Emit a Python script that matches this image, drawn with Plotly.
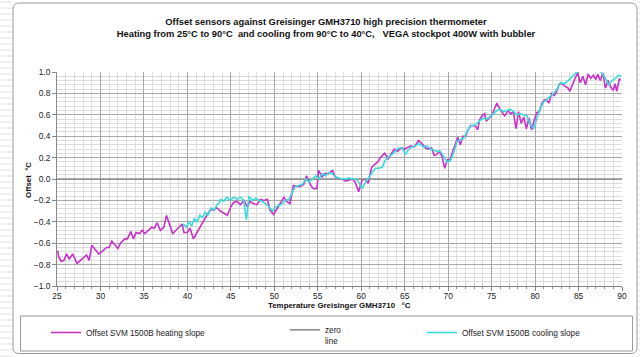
import plotly.graph_objects as go

# ---------------- data ----------------
heat_x = [25.07, 25.2, 25.5, 25.8, 26.1, 26.4, 26.8, 27.3, 27.7, 28.1, 28.4, 28.7, 29.0, 29.4, 29.8,
          30.3, 30.7, 31.0, 31.3, 31.7, 32.0, 32.3, 32.8, 33.1, 33.5, 33.8, 34.1, 34.5, 34.8, 35.1,
          35.5, 35.9, 36.2, 36.5, 36.9, 37.3, 37.6, 37.9, 38.3, 38.8, 39.4, 39.6, 40.0, 40.3, 40.7,
          41.1, 41.5, 41.9, 42.3, 42.7, 43.0, 43.4, 43.8, 44.2, 44.6, 45.0, 45.3, 45.7, 46.1, 46.5,
          46.9, 47.2, 47.6, 48.0, 48.4, 48.8, 49.2, 49.5, 49.9, 50.3, 50.7, 51.1, 51.4, 51.8, 52.2,
          52.6, 53.0, 53.4, 53.7, 54.2, 54.5, 54.9, 55.1, 55.5, 55.8, 56.2, 56.7, 57.0, 57.4, 57.8,
          58.2, 58.6, 59.0, 59.3, 59.7, 60.1, 60.4, 60.8, 61.2, 61.6, 61.9, 62.3, 62.7, 63.1, 63.5,
          63.8, 64.2, 64.6, 65.0, 65.4, 65.7, 66.1, 66.6, 67.1, 67.4, 67.7, 68.1, 68.4, 68.7, 69.0,
          69.3, 69.6, 69.9, 70.2, 70.5, 70.8, 71.1, 71.4, 71.7, 72.0, 72.3, 72.6, 72.9, 73.2, 73.4,
          73.6, 73.9, 74.2, 74.4, 74.7, 75.0, 75.3, 75.6, 75.9, 76.2, 76.5, 76.9, 77.2, 77.5, 77.8,
          78.1, 78.4, 78.7, 79.0, 79.3, 79.6, 79.9, 80.2, 80.5, 80.8, 81.1, 81.3, 81.6, 81.9, 82.2,
          82.5, 82.8, 83.1, 83.4, 83.8, 84.0, 84.3, 84.6, 84.9, 85.2, 85.5, 85.8, 86.1, 86.4, 86.7,
          87.0, 87.2, 87.5, 87.8, 88.1, 88.4, 88.7, 89.0, 89.2, 89.4, 89.7, 89.8]
heat_y = [-0.67, -0.73, -0.77, -0.76, -0.70, -0.75, -0.70, -0.79, -0.76, -0.73, -0.71, -0.76, -0.62, -0.66, -0.70,
          -0.67, -0.64, -0.64, -0.58, -0.62, -0.65, -0.60, -0.56, -0.56, -0.49, -0.56, -0.50, -0.51, -0.48, -0.51,
          -0.48, -0.45, -0.46, -0.41, -0.48, -0.45, -0.34, -0.41, -0.51, -0.47, -0.42, -0.50, -0.50, -0.46, -0.56,
          -0.50, -0.44, -0.38, -0.33, -0.28, -0.29, -0.27, -0.30, -0.32, -0.34, -0.26, -0.22, -0.21, -0.24, -0.20,
          -0.26, -0.21, -0.23, -0.24, -0.19, -0.20, -0.19, -0.29, -0.33, -0.28, -0.23, -0.17, -0.21, -0.23, -0.06,
          -0.07, -0.07, -0.05, 0.03, -0.06, -0.09, -0.09, 0.08, 0.02, 0.05, 0.05, 0.08, 0.02, 0.00, 0.00,
          -0.02, -0.01, 0.00, -0.03, -0.12, -0.01, 0.00, -0.04, 0.11, 0.14, 0.16, 0.21, 0.24, 0.19, 0.24,
          0.28, 0.26, 0.29, 0.28, 0.30, 0.31, 0.30, 0.36, 0.32, 0.29, 0.28, 0.29, 0.22, 0.23, 0.26,
          0.21, 0.10, 0.18, 0.18, 0.25, 0.33, 0.39, 0.32, 0.40, 0.40, 0.46, 0.50, 0.50, 0.49, 0.46,
          0.55, 0.59, 0.61, 0.54, 0.57, 0.59, 0.65, 0.71, 0.66, 0.63, 0.59, 0.64, 0.61, 0.63, 0.47,
          0.63, 0.52, 0.58, 0.47, 0.57, 0.46, 0.55, 0.62, 0.63, 0.71, 0.74, 0.74, 0.71, 0.80, 0.78,
          0.82, 0.89, 0.89, 0.87, 0.85, 0.82, 0.89, 0.94, 0.99, 0.90, 0.96, 0.88, 0.98, 0.94, 0.97,
          0.93, 0.98, 0.92, 0.99, 0.85, 0.92, 0.86, 0.83, 0.89, 0.82, 0.94, 0.92]

cool_x = [39.5, 39.88, 40.19, 40.5, 40.8, 41.1, 41.43, 41.74, 42.05, 42.35, 42.74, 43.1, 43.4, 43.7,
          43.8, 44.18, 44.56, 44.95, 45.33, 45.71, 46.1, 46.48, 46.79, 47.09, 47.47, 47.86, 48.24, 48.62,
          49.0, 49.39, 49.77, 50.16, 50.54, 50.92, 51.3, 51.69, 52.07, 52.45, 52.84, 53.22, 53.6, 53.99,
          54.37, 54.75, 55.13, 55.52, 55.9, 56.28, 56.67, 57.05, 57.43, 57.82, 58.2, 58.58, 58.96, 59.35,
          59.73, 60.11, 60.5, 60.88, 61.26, 61.65, 62.03, 62.41, 62.79, 63.18, 63.56, 63.94, 64.33, 64.71,
          65.09, 65.48, 65.86, 66.24, 66.62, 67.18, 67.57, 67.95, 68.33, 68.72, 69.1, 69.49, 69.87, 70.25,
          70.64, 71.02, 71.4, 71.79, 72.17, 72.55, 72.94, 73.32, 73.7, 74.09, 74.47, 74.86, 75.24, 75.62,
          76.01, 76.39, 76.77, 77.16, 77.54, 77.92, 78.31, 78.69, 79.07, 79.46, 79.84, 80.23, 80.61, 80.99,
          81.38, 81.76, 82.14, 82.53, 82.91, 83.29, 83.68, 84.06, 84.44, 84.83, 85.21, 85.8, 86.36, 86.94,
          87.51, 88.09, 88.47, 88.86, 89.24, 89.62, 89.89]
cool_y = [-0.42, -0.45, -0.40, -0.44, -0.37, -0.40, -0.34, -0.36, -0.31, -0.34, -0.27, -0.29, -0.24, -0.22,
          -0.19, -0.21, -0.17, -0.20, -0.17, -0.19, -0.17, -0.20, -0.38, -0.16, -0.20, -0.18, -0.20, -0.21,
          -0.23, -0.26, -0.30, -0.26, -0.25, -0.23, -0.20, -0.19, -0.12, -0.07, -0.06, -0.05, 0.00, -0.03,
          0.00, 0.03, 0.00, 0.05, 0.03, 0.06, 0.05, 0.02, 0.01, 0.00, -0.00, 0.01, -0.00, 0.00,
          -0.03, -0.09, -0.03, 0.02, 0.06, 0.10, 0.10, 0.11, 0.18, 0.21, 0.23, 0.26, 0.29, 0.29,
          0.23, 0.28, 0.30, 0.31, 0.33, 0.30, 0.31, 0.28, 0.27, 0.26, 0.26, 0.21, 0.16, 0.17,
          0.25, 0.35, 0.37, 0.38, 0.44, 0.50, 0.50, 0.52, 0.55, 0.57, 0.56, 0.59, 0.61, 0.64,
          0.65, 0.63, 0.64, 0.65, 0.63, 0.60, 0.61, 0.60, 0.59, 0.51, 0.47, 0.57, 0.66, 0.72,
          0.75, 0.78, 0.80, 0.84, 0.90, 0.89, 0.91, 0.94, 0.97, 1.00, 1.02, 1.03, 1.02, 1.03,
          1.01, 0.94, 0.88, 0.92, 0.94, 0.97, 0.96]

zero_x = [25, 90]
zero_y = [0, 0]

title_text = ("Offset sensors against Greisinger GMH3710 high precision thermometer<br>"
              "Heating from 25°C to 90°C  and cooling from 90°C to 40°C,   VEGA stockpot 400W with bubbler")
x_title = "Temperature Greisinger GMH3710   °C"
y_title = "Offset  °C"
name_heat = "Offset SVM 1500B heating slope"
name_zero = "zero<br>line"
name_cool = "Offset SVM 1500B cooling slope"

# ---------------- layout geometry ----------------
W, H = 640, 357
ML, MR, MT, MB = 57, 18, 72, 71
PW, PH = W - ML - MR, H - MT - MB


def px(x):
    return (x - ML) / PW


def py(y):
    return (H - MB - y) / PH


FONT = "Liberation Sans, Arial, sans-serif"

fig = go.Figure()
fig.add_trace(go.Scatter(x=heat_x, y=heat_y, mode="lines", name=name_heat,
                         line=dict(color="#C832C8", width=1.6), legend="legend"))
fig.add_trace(go.Scatter(x=zero_x, y=zero_y, mode="lines", name=name_zero,
                         line=dict(color="#8C8C8C", width=1.6), legend="legend2"))
fig.add_trace(go.Scatter(x=cool_x, y=cool_y, mode="lines", name=name_cool,
                         line=dict(color="#3ADADA", width=1.6), legend="legend3"))

shapes = []
# spreadsheet grid outside the chart area
yy = 2
while yy < H:
    shapes.append(dict(type="line", xref="paper", yref="paper", x0=px(0), x1=px(12.5),
                       y0=py(yy), y1=py(yy), line=dict(color="#E2E2E2", width=1), layer="below"))
    shapes.append(dict(type="line", xref="paper", yref="paper", x0=px(637.5), x1=px(640),
                       y0=py(yy), y1=py(yy), line=dict(color="#E2E2E2", width=1), layer="below"))
    yy += 6

# rounded chart-area border
x0, x1, y0, y1, r = 13, 637, 3, 353.5, 6
path = (f"M {px(x0 + r)} {py(y0)} L {px(x1 - r)} {py(y0)} Q {px(x1)} {py(y0)} {px(x1)} {py(y0 + r)} "
        f"L {px(x1)} {py(y1 - r)} Q {px(x1)} {py(y1)} {px(x1 - r)} {py(y1)} "
        f"L {px(x0 + r)} {py(y1)} Q {px(x0)} {py(y1)} {px(x0)} {py(y1 - r)} "
        f"L {px(x0)} {py(y0 + r)} Q {px(x0)} {py(y0)} {px(x0 + r)} {py(y0)} Z")
shapes.append(dict(type="path", xref="paper", yref="paper", path=path,
                   line=dict(color="#9A9A9A", width=1), layer="below"))
# legend box
shapes.append(dict(type="rect", xref="paper", yref="paper", x0=px(20.5), x1=px(632.5),
                   y0=py(316), y1=py(351), line=dict(color="#9A9A9A", width=1), layer="below"))


def legend_at(xpix, ypix, valign="middle"):
    return dict(xref="container", yref="container", x=xpix / W, y=1 - ypix / H,
                xanchor="left", yanchor="top", bgcolor="rgba(0,0,0,0)", borderwidth=0,
                font=dict(family=FONT, size=8.2, color="#222"), valign=valign,
                itemwidth=30, tracegroupgap=0)


annotations = [
    dict(text=x_title, xref="paper", yref="paper", x=px(339), y=py(305),
         xanchor="center", yanchor="middle", showarrow=False,
         font=dict(family=FONT, size=7.9, color="#111", weight="bold")),
    dict(text=y_title, xref="paper", yref="paper", x=px(28), y=py(180),
         xanchor="center", yanchor="middle", showarrow=False, textangle=-90,
         font=dict(family=FONT, size=7.9, color="#111", weight="bold")),
]

fig.update_layout(
    width=W, height=H,
    margin=dict(l=ML, r=MR, t=MT, b=MB, autoexpand=False),
    paper_bgcolor="white", plot_bgcolor="white",
    font=dict(family=FONT, size=8.4, color="#222"),
    title=dict(text=title_text, x=326 / W, xanchor="center", y=1 - 25 / H, yanchor="top",
               font=dict(family=FONT, size=9.35, color="#111", weight="bold")),
    showlegend=True,
    legend=legend_at(46, 318),
    legend2=legend_at(285, 318, "top"),
    legend3=legend_at(422, 318),
    shapes=shapes,
    annotations=annotations,
    xaxis=dict(range=[25, 90], dtick=5, tick0=25, showgrid=True, gridcolor="#A8A8A8", gridwidth=1,
               minor=dict(dtick=1, showgrid=True, gridcolor="#DDDDDD", gridwidth=1,
                          ticks="outside", ticklen=2, tickcolor="#888"),
               showline=True, linecolor="#888", linewidth=1, mirror=False,
               ticks="outside", ticklen=4, tickcolor="#888", zeroline=False,
               ticklabelstandoff=-2,
               tickfont=dict(family=FONT, size=8.4, color="#222")),
    yaxis=dict(range=[-1.0, 1.0], dtick=0.2, tick0=0, tickformat=".1f", showgrid=True,
               gridcolor="#A8A8A8", gridwidth=1,
               minor=dict(dtick=0.04, showgrid=True, gridcolor="#DDDDDD", gridwidth=1),
               showline=True, linecolor="#888", linewidth=1,
               ticks="outside", ticklen=4, tickcolor="#888", zeroline=False,
               tickfont=dict(family=FONT, size=8.4, color="#222")),
)

fig.write_html("out.html", post_script="document.body.style.margin='0';",
               config={"displayModeBar": False})
